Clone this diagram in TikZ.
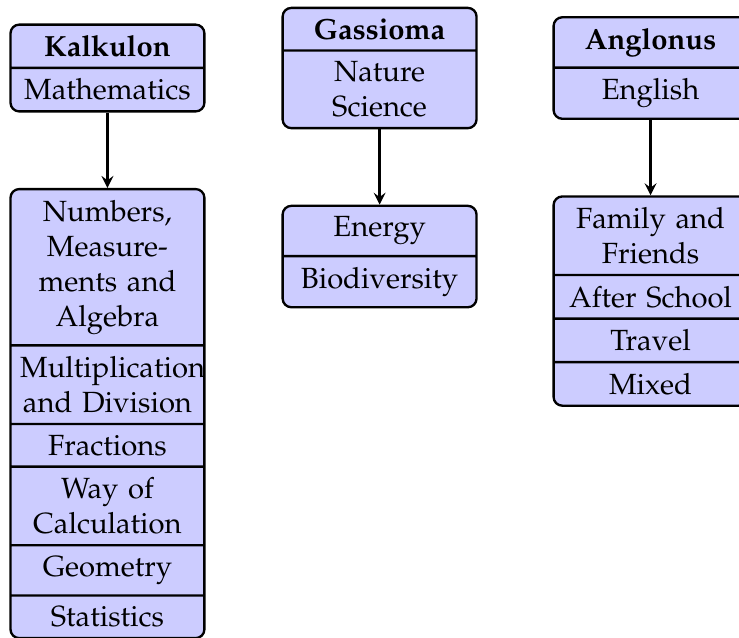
\documentclass[tikz,border=0pt]{standalone}
\usepackage[T1]{fontenc}
\usepackage{mathpazo}
\usepackage{tikz}
\usetikzlibrary{shapes.multipart}
\usetikzlibrary{positioning}
\tikzset{
	subj/.style={rectangle split,rectangle split parts=2,draw=black,thick,rounded corners=3pt,fill=blue!20,text width=2.1cm,align=center},
	link/.style={thick,->},
	>=stealth,
	}
\begin{document}
\begin{tikzpicture}
\useasboundingbox (0,0) rectangle (253.1pt,-218.5pt);

\node[subj] (kalk) at (36.8pt,-23.3pt) {\textbf{Kalkulon}\nodepart{two}Mathematics};
\node[subj] (gass) at (130pt,-23.3pt) {\textbf{Gassioma}\nodepart{two}Nature Science};
\node[subj] (angl) at (222.8pt,-23.3pt) {\textbf{Anglonus}\nodepart{two}English};

\node[subj,rectangle split parts=6,below=25.8pt of kalk] (kalktop) {Numbers, Measurements and Algebra
  \nodepart{two}Multiplication and Division
  \nodepart{three}Fractions
  \nodepart{four}Way of Calculation
  \nodepart{five}Geometry
  \nodepart{six}Statistics};
\node[subj,below=25.8pt of gass] (gasstop) {Energy\nodepart{two}Biodiversity};
\node[subj,rectangle split parts=4,below=25.8pt of angl] (angltop) {Family and Friends
  \nodepart{two}After School
  \nodepart{three}Travel
  \nodepart{four}Mixed};

\draw[link] (kalk) -- (kalktop);
\draw[link] (gass) -- (gasstop);
\draw[link] (angl) -- (angltop);
\end{tikzpicture}
\end{document}
